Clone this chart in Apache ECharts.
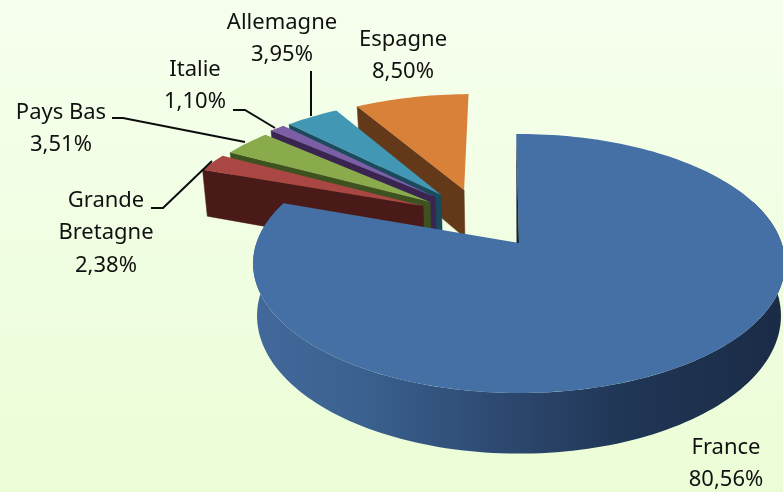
<!DOCTYPE html>
<html><head><meta charset="utf-8">
<style>html,body{margin:0;padding:0}#c{width:783px;height:492px}</style>
<script src="https://cdn.jsdelivr.net/npm/echarts@6/dist/echarts.min.js"></script>
</head><body><div id="c"></div>
<script>
// data, clockwise from 12 o'clock
var categories = ['France', 'Grande\nBretagne', 'Pays Bas', 'Italie', 'Allemagne', 'Espagne'];
var shares = [80.56, 2.38, 3.51, 1.10, 3.95, 8.50];

// styles
var topColors = ['#4570a6', '#aa4644', '#8aab4c', '#7b5ea3', '#4197b4', '#d98039'];
var wallColors = ['#2c4a73', '#4a1a18', '#3e5220', '#3a2550', '#1a4a5c', '#63391a'];
// explosion offset of each slice, in unit-disc coordinates
var offsetU = [0, -0.383, -0.357, -0.339, -0.315, -0.224];
var offsetV = [0, 0.307, 0.342, 0.3866, 0.4045, 0.45];
// label centres [x, y of first line] and leader lines
var labelPos = [[726, 447], [106, 200], [61, 112], [195, 69], [282, 22], [403, 39]];
var leaders = [null,
  [[151, 208], [163, 208], [212, 161]],
  [[112, 118], [123, 118], [245, 142]],
  [[233, 110], [245, 110], [275, 128]],
  [[311, 71], [311, 116]],
  null];

// perspective projection of the unit disc
var CX = 519, K = 262.6, PA = -87.8, PB = 243, PC = 0.1583, DROP = 51, LEAN = 0.985, START = -0.7;
function project(u, v, lower) {
  var w = 1 + PC * v;
  var x = CX + K * u / w, y = (PA * v + PB) / w;
  if (lower) { x = CX + (x - CX) * LEAN; y += DROP / w; }
  return [x, y];
}
function rim(deg, du, dv, lower) {
  var r = deg * Math.PI / 180;
  return project(Math.sin(r) + du, Math.cos(r) + dv, lower);
}
function arc(a0, a1, du, dv, lower) {
  var pts = [], n = Math.max(2, Math.ceil(Math.abs(a1 - a0) / 1.5));
  for (var i = 0; i <= n; i++) pts.push(rim(a0 + (a1 - a0) * i / n, du, dv, lower));
  return pts;
}
var total = shares.reduce(function (a, b) { return a + b; }, 0);

function renderSlice(params, api) {
  var i = api.value(0), kids = [];
  var before = 0;
  for (var j = 0; j < i; j++) before += shares[j];
  var a0 = START + before / total * 360, a1 = a0 + api.value(1) / total * 360;
  var du = offsetU[i], dv = offsetV[i];
  var apex = project(du, dv, false), apexLow = project(du, dv, true);
  var fill = topColors[i], wall = wallColors[i];
  var base = (6 - i) * 10;
  if (i === 0) {
    var front = arc(70, a1, du, dv, false).concat(arc(a1, 70, du, dv, true));
    kids.push({ type: 'polygon', shape: { points: front }, z2: base, style: {
      fill: new echarts.graphic.LinearGradient(0, 0, 1, 0, [
        { offset: 0, color: '#42699a' }, { offset: 0.2, color: '#3a6190' },
        { offset: 0.45, color: '#2e4a72' }, { offset: 0.7, color: '#203655' },
        { offset: 1, color: '#1a2b46' }]) } });
    var r0 = rim(a0, du, dv, false);
    kids.push({ type: 'polygon', z2: base + 2, shape: { points: [r0, apex, [apex[0] - 2.5, apex[1]]] },
      style: { fill: '#14263c' } });
  } else {
    var r = rim(a0, du, dv, false), rl = rim(a0, du, dv, true);
    kids.push({ type: 'polygon', z2: base, shape: { points: [r, apex, apexLow, rl] },
      style: { fill: wall, stroke: wall, lineWidth: 0.5 } });
  }
  var face = [apex].concat(arc(a0, a1, du, dv, false));
  kids.push({ type: 'polygon', z2: base + 1, shape: { points: face }, style: { fill: fill } });

  var pct = api.value(1).toFixed(2).replace('.', ',') + '%';
  kids.push({ type: 'text', z2: 200, style: {
    text: categories[i] + '\n' + pct, x: labelPos[i][0], y: labelPos[i][1] - 16,
    align: 'center', verticalAlign: 'top', lineHeight: 32.5,
    font: '22px "Noto Sans"', fill: '#111111' } });
  if (leaders[i]) {
    kids.push({ type: 'polyline', z2: 150, shape: { points: leaders[i] },
      style: { stroke: '#0c0c0c', lineWidth: 2, fill: 'none' } });
  }
  return { type: 'group', children: kids };
}

var chart = echarts.init(document.getElementById('c'), null, { renderer: 'canvas' });
chart.setOption({
  animation: false,
  backgroundColor: new echarts.graphic.LinearGradient(0, 0, 0, 1, [
    { offset: 0, color: '#f6ffee' }, { offset: 1, color: '#ebfdd6' }]),
  series: [{
    type: 'custom', coordinateSystem: 'none', silent: true,
    encode: { value: 1 },
    data: shares.map(function (s, i) { return [i, s]; }).reverse(),
    renderItem: renderSlice
  }]
});
</script></body></html>
